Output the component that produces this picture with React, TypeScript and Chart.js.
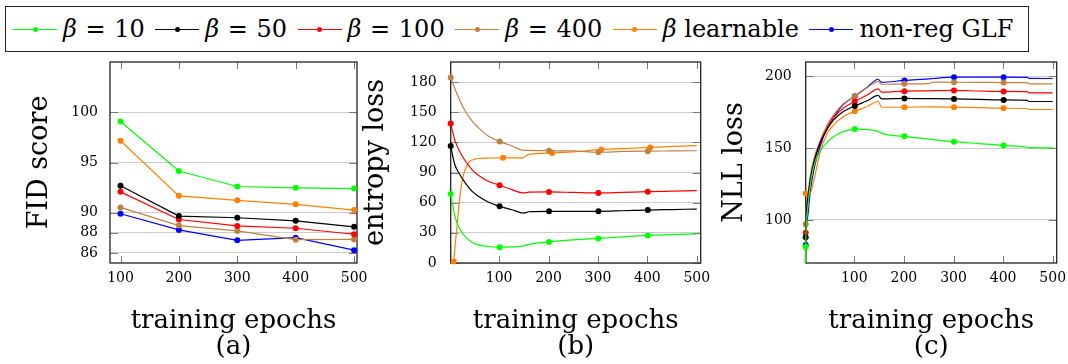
import React, { useEffect, useRef } from 'react';
import { Chart, registerables } from 'chart.js';

Chart.register(...registerables);

// ---------- data ----------
const epochTicks = [100, 200, 300, 400, 500];
const fidTicks = [86, 88, 90, 95, 100];
const entropyTicks = [0, 30, 60, 90, 120, 150, 180];
const nllTicks = [100, 150, 200];

// (a) FID score
const fidEpochs = [100, 200, 300, 400, 500];
const fidBeta10 = [99.08, 94.15, 92.61, 92.48, 92.41];
const fidBeta50 = [92.68, 89.67, 89.5, 89.2, 88.6];
const fidBeta100 = [92.08, 89.33, 88.69, 88.46, 87.86];
const fidBeta400 = [90.53, 88.72, 88.19, 87.32, 87.35];
const fidLearn = [97.17, 91.68, 91.24, 90.84, 90.27];
const fidGLF = [89.9, 88.29, 87.26, 87.52, 86.28];

// (b) entropy loss
const entEpochs = [2, 10, 18, 31, 45, 58, 78, 101, 126, 150, 160, 201, 250, 301, 350, 401, 450, 500];
const entBeta10 = [68.7, 47.5, 36, 26.5, 20.7, 18, 16.4, 15.7, 16, 17, 18.5, 21, 23, 24.5, 26, 27.4, 28.3, 29];
const entBeta50 = [116.4, 98.5, 90, 80, 71.5, 66.4, 60.7, 56.4, 53, 49.7, 51, 51.4, 51.3, 51.4, 52, 52.7, 53.2, 53.7];
const entBeta100 = [138.7, 123, 113, 102, 93, 87.4, 81.4, 77.4, 73, 69.7, 70.5, 70.7, 70.2, 69.7, 70.3, 71, 71.5, 72];
const entBeta400 = [184.7, 174, 164.5, 151.5, 141.4, 134.7, 126.4, 121, 116.4, 112, 112, 111.7, 111.5, 110.2, 111, 111.3, 111.5, 111.7];
const entLearnEpochs = [8, 15, 22, 28, 35, 41, 50, 58, 80, 108, 148, 160, 207, 250, 307, 350, 406, 450, 500];
const entLearn = [1.4, 38, 72, 88, 97, 101.4, 103, 104, 104.5, 104.7, 104.7, 108, 109.5, 110.5, 113, 113.8, 115, 116, 116.7];

// (c) NLL loss
const nllEpochs = [1, 2, 6, 11, 18, 31, 45, 58, 78, 101, 126, 148, 155, 201, 250, 260, 301, 350, 401, 449, 452, 500];
const nllBeta10 = [40, 81.3, 108, 124, 137, 148, 154, 158, 161.5, 163.3, 163, 161.7, 160.3, 158.2, 156.3, 156, 154.5, 153.2, 151.9, 150.6, 150.3, 150.2];
const nllBeta50 = [40, 87.9, 113, 127, 139, 153.5, 163, 169.5, 175.5, 179.4, 183, 186.7, 184.3, 184.6, 184.5, 184.5, 184.3, 184, 183.6, 183.3, 182.5, 182.5];
const nllBeta100 = [40, 91.1, 115, 128, 140, 154, 164, 171, 178, 182.5, 187, 191.3, 189, 189.7, 189.9, 190, 190.2, 189.8, 189.5, 189.3, 188.5, 188.5];
const nllBeta400 = [40, 97, 117, 130, 142, 155, 166, 173, 181, 186, 192, 196.5, 194.5, 194.8, 195, 196, 195.9, 195.8, 195.7, 195.6, 194.8, 194.8];
const nllLearn = [117, 118.4, 118, 118.5, 127, 147, 160, 166, 172, 175.7, 179, 182.5, 178.5, 178.5, 178.8, 178.8, 178.5, 178.2, 177.8, 177.6, 176.9, 176.9];
const nllGLF = [40, 82.5, 102, 119, 134, 151, 164, 171.5, 180.5, 186.2, 192.5, 198, 195.8, 197.2, 198.2, 198.5, 199.4, 199.5, 199.4, 199.3, 198.6, 198.5];

// marked epochs on the dense curves
const marksStd = [2, 101, 201, 301, 401];
const marksLearnB = [8, 108, 207, 307, 406];

// ---------- styles ----------
const FONT = '"DejaVu Serif", serif';
const C_GREEN = '#00ff00';
const C_BLACK = '#000000';
const C_RED = '#ff0000';
const C_BROWN = '#bf8040';
const C_ORANGE = '#ff8000';
const C_BLUE = '#0000ff';

function series(xs: number[], ys: number[], color: string, marks: number[] | null, smooth: boolean) {
  return {
    data: xs.map((x, i) => ({ x, y: ys[i] })),
    borderColor: color,
    backgroundColor: color,
    pointBackgroundColor: color,
    pointBorderWidth: 0,
    borderWidth: 1.2,
    pointRadius: (c: any) => (!marks || (c.raw && marks.includes(c.raw.x)) ? 3 : 0),
    pointHoverRadius: 0,
    tension: 0,
    cubicInterpolationMode: smooth ? 'monotone' : 'default',
  };
}

const framePlugin = {
  id: 'frame',
  beforeDatasetsDraw(chart: any) {
    const { ctx, chartArea, scales } = chart;
    const { left, right, top, bottom } = chartArea;
    const x = scales.x;
    const y = scales.y;
    ctx.save();
    ctx.strokeStyle = '#7a7a7a';
    ctx.lineWidth = 1;
    ctx.beginPath();
    x.ticks.forEach((t: any) => {
      const px = Math.round(x.getPixelForValue(t.value)) + 0.5;
      ctx.moveTo(px, top);
      ctx.lineTo(px, top + 7);
      ctx.moveTo(px, bottom);
      ctx.lineTo(px, bottom - 7);
    });
    y.ticks.forEach((t: any) => {
      const py = Math.round(y.getPixelForValue(t.value)) + 0.5;
      ctx.moveTo(left, py);
      ctx.lineTo(left + 8, py);
      ctx.moveTo(right, py);
      ctx.lineTo(right - 8, py);
    });
    ctx.stroke();
    ctx.strokeStyle = '#222222';
    ctx.lineWidth = 1.3;
    ctx.strokeRect(left, top, right - left, bottom - top);
    ctx.restore();
  },
};

type Spec = {
  datasets: any[];
  xMin: number; xMax: number; yMin: number; yMax: number;
  yTicks: number[]; yTitle: string; sub: string;
  yWidth: number; padRight: number; yTitlePad: number; yTickPad: number;
  clip: any;
};

const CANVAS_H = 306;
const PAD_TOP = 4;
const X_HEIGHT = 101;

function buildConfig(s: Spec): any {
  return {
    type: 'line',
    data: { datasets: s.datasets.map((d) => ({ ...d, clip: s.clip })) },
    plugins: [framePlugin],
    options: {
      responsive: false,
      animation: false,
      events: [],
      layout: { padding: { left: 0, top: PAD_TOP, right: s.padRight, bottom: 0 } },
      plugins: { legend: { display: false }, tooltip: { enabled: false } },
      scales: {
        x: {
          type: 'linear',
          min: s.xMin,
          max: s.xMax,
          afterBuildTicks: (ax: any) => { ax.ticks = epochTicks.map((v) => ({ value: v })); },
          afterFit: (sc: any) => { sc.height = X_HEIGHT; sc.paddingLeft = 0; sc.paddingRight = 0; },
          grid: { display: false, drawTicks: false },
          border: { display: false },
          ticks: { color: '#000', font: { family: FONT, size: 14 }, padding: 7, maxRotation: 0, autoSkip: false },
          title: {
            display: true,
            text: ['training epochs', s.sub],
            color: '#000',
            font: { family: FONT, size: 26, lineHeight: 1.0 },
            padding: { top: 0, bottom: 4 },
          },
        },
        y: {
          type: 'linear',
          min: s.yMin,
          max: s.yMax,
          afterBuildTicks: (ax: any) => { ax.ticks = s.yTicks.map((v) => ({ value: v })); },
          afterFit: (sc: any) => { sc.width = s.yWidth; sc.paddingTop = 0; sc.paddingBottom = 0; },
          grid: { color: '#cccccc', lineWidth: 1, drawTicks: false },
          border: { display: false },
          ticks: { color: '#000', font: { family: FONT, size: 14 }, padding: s.yTickPad, autoSkip: false },
          title: {
            display: true,
            text: s.yTitle,
            color: '#000',
            font: { family: FONT, size: 27, lineHeight: 1.2 },
            padding: { top: s.yTitlePad, bottom: 0 },
          },
        },
      },
    },
  };
}

function Panel({ left, width, spec }: { left: number; width: number; spec: Spec }) {
  const ref = useRef<HTMLCanvasElement | null>(null);
  useEffect(() => {
    const chart = new Chart(ref.current as HTMLCanvasElement, buildConfig(spec));
    return () => chart.destroy();
  }, []);
  return (
    <canvas
      ref={ref}
      width={width}
      height={CANVAS_H}
      style={{ position: 'absolute', left, top: 58, width, height: CANVAS_H }}
    />
  );
}

const specA: Spec = {
  datasets: [
    series(fidEpochs, fidBeta10, C_GREEN, null, false),
    series(fidEpochs, fidBeta50, C_BLACK, null, false),
    series(fidEpochs, fidBeta100, C_RED, null, false),
    series(fidEpochs, fidBeta400, C_BROWN, null, false),
    series(fidEpochs, fidLearn, C_ORANGE, null, false),
    series(fidEpochs, fidGLF, C_BLUE, null, false),
  ],
  xMin: 82, xMax: 505, yMin: 85, yMax: 105,
  yTicks: fidTicks, yTitle: 'FID score', sub: '(a)',
  yWidth: 110, padRight: 23, yTitlePad: 24, yTickPad: 12,
  clip: 5,
};

const specB: Spec = {
  datasets: [
    series(entEpochs, entBeta10, C_GREEN, marksStd, true),
    series(entEpochs, entBeta50, C_BLACK, marksStd, true),
    series(entEpochs, entBeta100, C_RED, marksStd, true),
    series(entEpochs, entBeta400, C_BROWN, marksStd, true),
    series(entLearnEpochs, entLearn, C_ORANGE, marksLearnB, true),
  ],
  xMin: 2, xMax: 508, yMin: 0, yMax: 200,
  yTicks: entropyTicks, yTitle: 'entropy loss', sub: '(b)',
  yWidth: 95.7, padRight: 11.3, yTitlePad: 4.5, yTickPad: 14,
  clip: 5,
};

const specC: Spec = {
  datasets: [
    series(nllEpochs, nllBeta10, C_GREEN, marksStd, true),
    series(nllEpochs, nllBeta50, C_BLACK, marksStd, true),
    series(nllEpochs, nllBeta100, C_RED, marksStd, true),
    series(nllEpochs, nllBeta400, C_BROWN, marksStd, true),
    series(nllEpochs, nllLearn, C_ORANGE, marksStd, true),
    series(nllEpochs, nllGLF, C_BLUE, marksStd, true),
  ],
  xMin: 2, xMax: 508, yMin: 70, yMax: 210,
  yTicks: nllTicks, yTitle: 'NLL loss', sub: '(c)',
  yWidth: 93.7, padRight: 11.3, yTitlePad: 6.8, yTickPad: 14,
  clip: { left: 5, top: 5, right: 5, bottom: 0 },
};

const EQ = <span style={{ margin: '0 1px' }}>=</span>;

const legendItems: { color: string; label: React.ReactNode }[] = [
  { color: C_GREEN, label: <><i>β</i> {EQ} 10</> },
  { color: C_BLACK, label: <><i>β</i> {EQ} 50</> },
  { color: C_RED, label: <><i>β</i> {EQ} 100</> },
  { color: C_BROWN, label: <><i>β</i> {EQ} 400</> },
  { color: C_ORANGE, label: <><i>β</i> learnable</> },
  { color: C_BLUE, label: <>non-reg GLF</> },
];

function Legend() {
  return (
    <div
      style={{
        position: 'absolute', left: 5, top: 6, width: 1024, height: 46, boxSizing: 'border-box',
        border: '1.3px solid #222', display: 'flex', alignItems: 'center', paddingLeft: 7,
        fontFamily: FONT, fontSize: 24, color: '#000', whiteSpace: 'pre', background: '#fff',
      }}
    >
      {legendItems.map((it, i) => (
        <div key={i} style={{ display: 'flex', alignItems: 'center', marginRight: 10.5 }}>
          <div style={{ position: 'relative', width: 44, height: 12, marginRight: 6 }}>
            <div style={{ position: 'absolute', left: 0, right: 0, top: 5.5, height: 1, background: it.color }} />
            <div style={{ position: 'absolute', left: 19.5, top: 3.5, width: 5, height: 5, borderRadius: '50%', background: it.color }} />
          </div>
          <span>{it.label}</span>
        </div>
      ))}
    </div>
  );
}

export default function App() {
  return (
    <div style={{ position: 'absolute', left: 0, top: 0, width: 1068, height: 364, background: '#fff', overflow: 'hidden' }}>
      <Legend />
      <Panel left={0} width={380} spec={specA} />
      <Panel left={355} width={357} spec={specB} />
      <Panel left={712} width={356} spec={specC} />
    </div>
  );
}
